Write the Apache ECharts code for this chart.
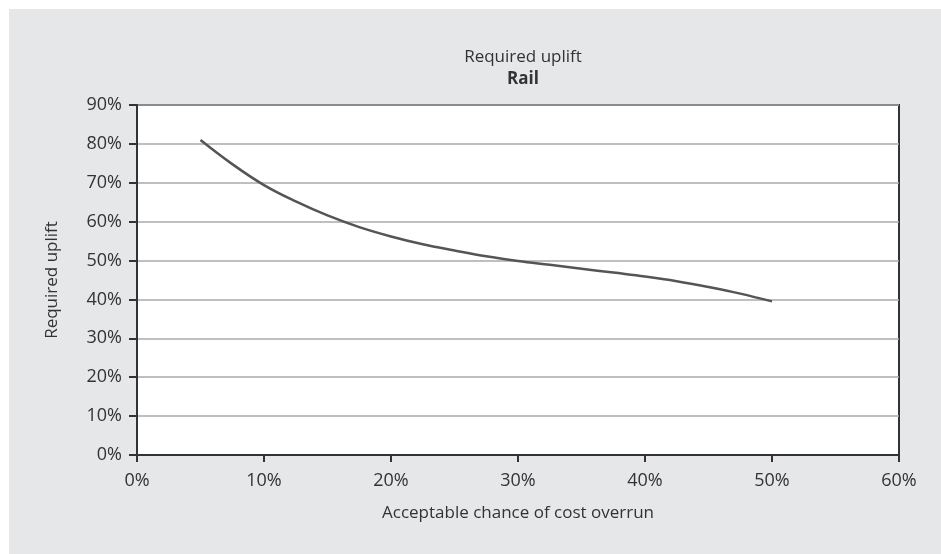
<!DOCTYPE html>
<html>
<head>
<meta charset="utf-8">
<script src="https://cdn.jsdelivr.net/npm/echarts@6/dist/echarts.min.js"></script>
<style>
  html, body { margin: 0; padding: 0; background: #fff; }
  #chart { width: 941px; height: 554px; }
</style>
</head>
<body>
<div id="chart"></div>
<script>
// acceptable chance of cost overrun (%)
const overrun = [5, 7.5, 10, 12.5, 15, 17.5, 20, 22.5, 25, 27.5, 30, 32.5, 35, 37.5, 40, 42.5, 45, 47.5, 50]
// required uplift (%) - Rail
const uplift = [81, 74.8, 69.4, 65.2, 61.6, 58.6, 56.2, 54.2, 52.6, 51.1, 49.9, 48.9, 47.9, 46.9, 45.9, 44.7, 43.2, 41.5, 39.5]

const chart = echarts.init(document.getElementById('chart'))
const font = '"Open Sans", "Noto Sans", sans-serif'

const option = {
  backgroundColor: '#fff',
  animation: false,
  textStyle: { fontFamily: font, color: '#333' },
  graphic: [
    {
      type: 'rect',
      left: 9, top: 9,
      shape: { width: 932, height: 545 },
      style: { fill: '#e6e7e8' },
      z: -10
    }
  ],
  title: [
    {
      text: 'Required uplift',
      left: 518, top: 44, textAlign: 'center',
      textStyle: { fontFamily: font, fontSize: 17, fontWeight: 'normal', color: '#333' }
    },
    {
      text: 'Rail',
      left: 518, top: 66, textAlign: 'center',
      textStyle: { fontFamily: font, fontSize: 17, fontWeight: 'bold', color: '#333' }
    }
  ],
  grid: {
    left: 137, right: 42, top: 105, bottom: 99,
    show: true,
    backgroundColor: '#fff',
    borderColor: '#333',
    borderWidth: 2
  },
  xAxis: {
    type: 'value',
    min: 0, max: 60, interval: 10,
    name: 'Acceptable chance of cost overrun',
    nameLocation: 'middle',
    nameGap: 50,
    nameTextStyle: { fontSize: 17, color: '#333' },
    axisLine: { lineStyle: { color: '#333', width: 2 } },
    axisTick: { show: true, length: 7, lineStyle: { color: '#333', width: 2 } },
    axisLabel: { fontSize: 18, color: '#333', margin: 17, formatter: '{value}%' },
    splitLine: { show: false }
  },
  yAxis: {
    type: 'value',
    min: 0, max: 90, interval: 10,
    name: 'Required uplift',
    nameLocation: 'middle',
    nameGap: 76,
    nameTextStyle: { fontSize: 17, color: '#333' },
    axisLine: { show: true, lineStyle: { color: '#333', width: 2 } },
    axisTick: { show: true, length: 8, lineStyle: { color: '#333', width: 2 } },
    axisLabel: { fontSize: 18, color: '#333', margin: 15, formatter: '{value}%' },
    splitLine: { show: true, lineStyle: { color: '#aaa', width: 1.5 } }
  },
  series: [
    {
      name: 'Rail',
      type: 'line',
      data: overrun.map((x, i) => [x, uplift[i]]),
      smooth: 0.4,
      showSymbol: false,
      lineStyle: { color: '#555', width: 2.5 }
    }
  ]
}

chart.setOption(option)
</script>
</body>
</html>
